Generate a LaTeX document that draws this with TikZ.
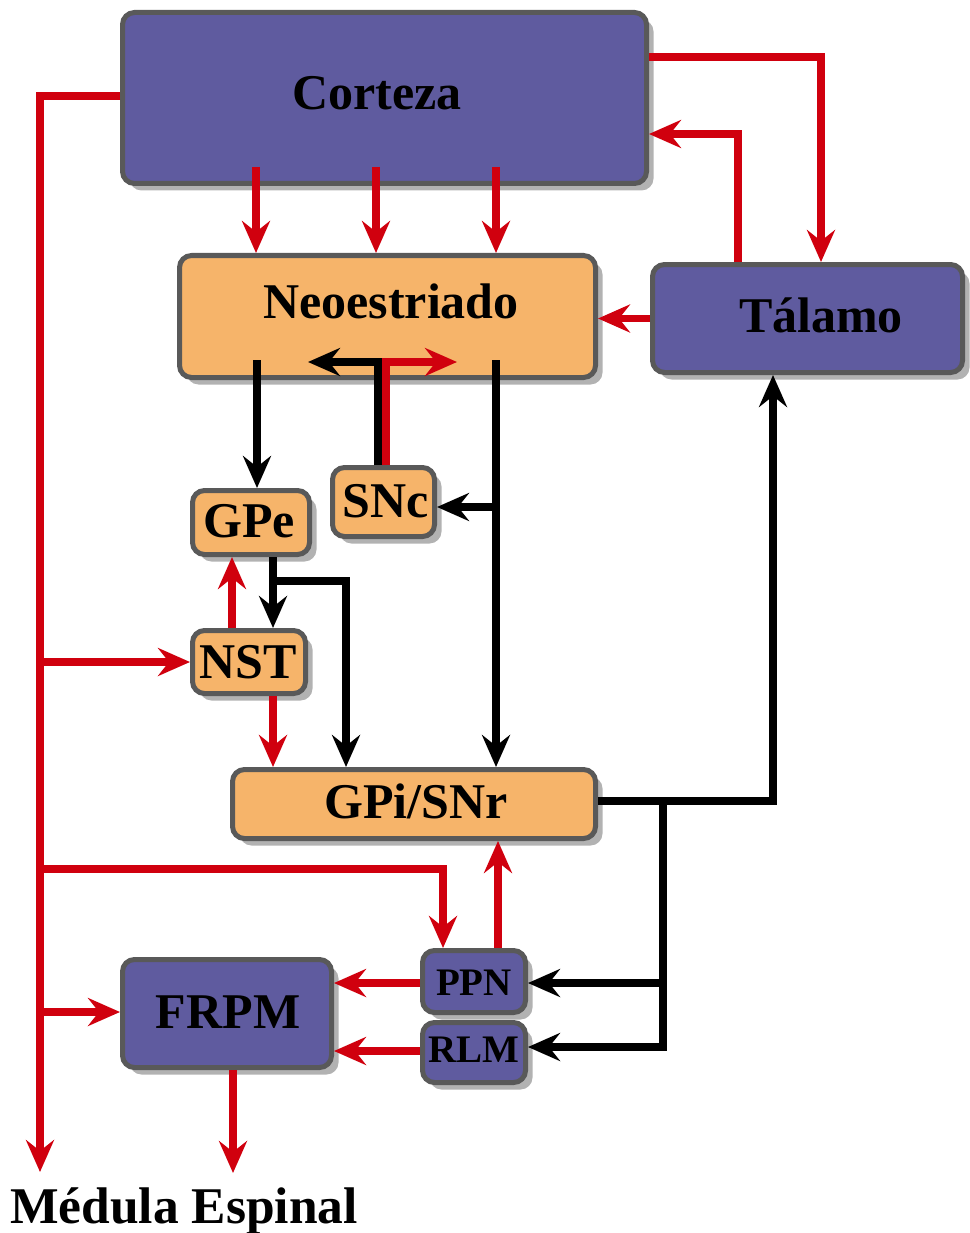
\documentclass[tikz,border=0pt]{standalone}
\usepackage{fontspec}
\setmainfont{Liberation Serif}
\usetikzlibrary{arrows.meta,shadows}
\definecolor{purp}{HTML}{5F5B9F}
\definecolor{oran}{HTML}{F6B46A}
\definecolor{bord}{HTML}{595959}
\definecolor{rd}{HTML}{D0000E}
\begin{document}
\begin{tikzpicture}[x=1pt,y=-1pt,
  boxbase/.style={draw=bord, line width=5pt, rounded corners=12pt, inner sep=0pt,
    drop shadow={shadow xshift=7pt, shadow yshift=-7pt, fill=black, opacity=0.3}},
  pbox/.style={boxbase, fill=purp},
  obox/.style={boxbase, fill=oran},
  lbl/.style={anchor=base, inner sep=0pt, font=\bfseries\fontsize{50}{60}\selectfont},
  slbl/.style={anchor=base, inner sep=0pt, font=\bfseries\fontsize{39}{46}\selectfont},
  redarr/.style={draw=rd, line width=7.5pt, -{Stealth[length=32pt,width=28pt,inset=11pt]}},
  blkarr/.style={draw=black, line width=7.5pt, -{Stealth[length=32pt,width=28pt,inset=11pt]}}
]
\useasboundingbox[fill=white] (0,0) rectangle (969,1233);

% boxes
\node[pbox, minimum width=524pt, minimum height=171pt] (ctx) at (384.5,98) {};
\node[obox, minimum width=416pt, minimum height=122pt] (neo) at (387.5,316.5) {};
\node[pbox, minimum width=310pt, minimum height=108pt] (tal) at (807.5,318.5) {};
\node[obox, minimum width=102pt, minimum height=69pt] (snc) at (383.5,502) {};
\node[obox, minimum width=117pt, minimum height=64pt] (gpe) at (251,522.5) {};
\node[obox, minimum width=113pt, minimum height=63pt] (nst) at (249,662) {};
\node[obox, minimum width=363pt, minimum height=69pt] (gpi) at (414,804) {};
\node[pbox, minimum width=209pt, minimum height=108pt] (frpm) at (227,1013.5) {};
\node[pbox, minimum width=103pt, minimum height=62pt] (ppn) at (474,981.5) {};
\node[pbox, minimum width=103pt, minimum height=60pt] (rlm) at (474,1052.5) {};

% free ends
\coordinate (mt) at (40,1172);
\coordinate (ft) at (233,1173);

% red connectors
\draw[redarr] (ctx.west |- 0,96) -| (mt);
\draw[redarr] (mt |- nst.west) -- (nst.west);
\draw[redarr] (mt |- 0,869) -| (443,0 |- ppn.north);
\draw[redarr] (mt |- 0,1012) -- (frpm.west |- 0,1012);
\foreach \x in {256,376,496} \draw[redarr] (\x,167) -- (\x,0 |- neo.north);
\draw[redarr] (ctx.east |- 0,57) -| (821,0 |- tal.north);
\draw[redarr] (738,0 |- tal.north) |- (ctx.east |- 0,134);
\draw[redarr] (tal.west) -- (neo.east |- tal.west);

% black connectors
\draw[blkarr] (257,360) -- (257,0 |- gpe.north);
\draw[blkarr] (378,0 |- snc.north) |- (308,362);
\draw[redarr] (386,0 |- snc.north) |- (457,362);
\draw[blkarr] (496,360) -- (496,0 |- gpi.north);
\draw[blkarr] (496,507) -- (snc.east |- 0,507);
\draw[blkarr] (273,0 |- gpe.south) -- (273,0 |- nst.north);
\draw[blkarr] (273,581) -| (346,0 |- gpi.north);
\draw[redarr] (232,0 |- nst.north) -- (232,0 |- gpe.south);
\draw[redarr] (273,0 |- nst.south) -- (273,0 |- gpi.north);
\draw[blkarr] (gpi.east |- 0,801) -| (773,0 |- tal.south);
\draw[blkarr] (663,801) |- (rlm.east |- 0,1047);
\draw[blkarr] (663,983) -- (ppn.east |- 0,983);
\draw[redarr] (498,0 |- ppn.north) -- (498,0 |- gpi.south);
\draw[redarr] (ppn.west |- 0,983) -- (frpm.east |- 0,983);
\draw[redarr] (rlm.west |- 0,1051) -- (frpm.east |- 0,1051);
\draw[redarr] (233,0 |- frpm.south) -- (ft);

% labels
\node[lbl] (tctx) at (377,110) {Corteza};
\node[lbl] (tneo) at (391,318) {Neoestriado};
\node[lbl] (ttal) at (821,332) {Tálamo};
\node[lbl] (tsnc) at (386,517) {SNc};
\node[lbl] (tgpe) at (249,537) {GPe};
\node[lbl] (tnst) at (248,678) {NST};
\node[lbl] (tgpi) at (416,818) {GPi/SNr};
\node[lbl] (tfrpm) at (228,1028) {FRPM};
\node[slbl] (tppn) at (474,995) {PPN};
\node[slbl] (trlm) at (474,1062) {RLM};
\node[lbl, anchor=base west, font=\bfseries\fontsize{51.5}{60}\selectfont] (tmed) at (10,1223) {Médula Espinal};
\end{tikzpicture}
\end{document}
